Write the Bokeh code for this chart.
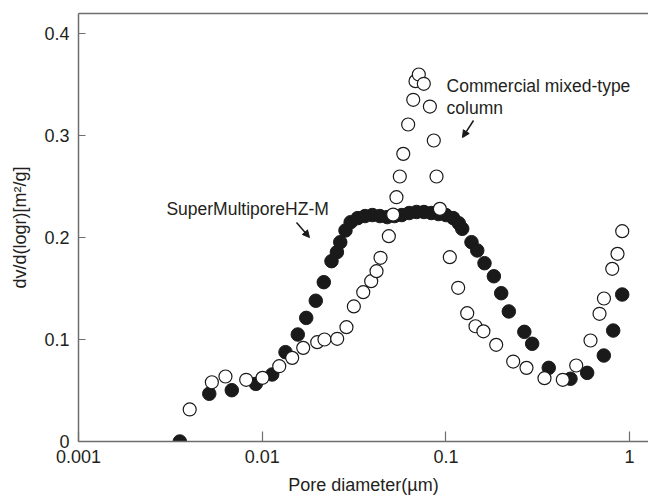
from bokeh.plotting import figure
from bokeh.models import FixedTicker, LogAxis, Label, Arrow, NormalHead, ColumnDataSource, Range1d
from bokeh.embed import file_html
from bokeh.resources import INLINE

# SuperMultiporeHZ-M (filled circles)
hz_diam = [0.00356, 0.00515, 0.00683, 0.00923, 0.01133, 0.01339, 0.01562, 0.01736,
           0.01957, 0.02164, 0.02383, 0.0255, 0.0266, 0.0284, 0.0303, 0.0331, 0.0363,
           0.0398, 0.0437, 0.0479, 0.0525, 0.0575, 0.0631, 0.0692, 0.0759, 0.0832,
           0.0912, 0.1000, 0.1096, 0.1175, 0.1227, 0.1378, 0.1481, 0.1622, 0.1824,
           0.2000, 0.2200, 0.2672, 0.2948, 0.3629, 0.4766, 0.5873, 0.7236, 0.8140, 0.9114]
hz_val = [0.000, 0.0468, 0.0503, 0.0565, 0.0657, 0.0876, 0.1049, 0.1212,
          0.1380, 0.1562, 0.1768, 0.1856, 0.1954, 0.2069, 0.2150, 0.2190, 0.2210,
          0.2220, 0.2210, 0.2200, 0.2210, 0.2220, 0.2240, 0.2250, 0.2250, 0.2240,
          0.2230, 0.2220, 0.2190, 0.2140, 0.2085, 0.1954, 0.1873, 0.1748, 0.1620,
          0.1454, 0.1275, 0.1075, 0.0958, 0.0722, 0.0615, 0.0673, 0.0843, 0.1088, 0.1441]

# Commercial mixed-type column (open circles)
com_diam = [0.00403, 0.00532, 0.00631, 0.00818, 0.01004, 0.01238, 0.01456, 0.01672,
            0.01993, 0.02183, 0.0256, 0.02875, 0.03154, 0.03548, 0.0392, 0.0419,
            0.04406, 0.0489, 0.0516, 0.0538, 0.0561, 0.0586, 0.0623, 0.0664, 0.0683,
            0.0712, 0.0758, 0.0818, 0.0859, 0.0889, 0.0927, 0.105, 0.1166, 0.1306,
            0.1449, 0.1600, 0.1878, 0.2324, 0.2746, 0.344, 0.4327, 0.512, 0.6125,
            0.6858, 0.7250, 0.8042, 0.8592, 0.9114]
com_val = [0.0314, 0.0581, 0.0637, 0.0605, 0.0624, 0.0738, 0.0820, 0.0918,
           0.0974, 0.1000, 0.1007, 0.1121, 0.1324, 0.1464, 0.1572, 0.1670,
           0.1801, 0.2013, 0.2225, 0.2395, 0.2598, 0.2820, 0.3108, 0.3350, 0.3533,
           0.3598, 0.3507, 0.3284, 0.2951, 0.2598, 0.2281, 0.1807, 0.1507, 0.1258,
           0.1130, 0.1080, 0.0948, 0.0784, 0.0722, 0.0621, 0.0605, 0.0745, 0.0990,
           0.1252, 0.1402, 0.1693, 0.1840, 0.2062]

x_ticks = [0.001, 0.01, 0.1, 1]
x_tick_labels = ["0.001", "0.01", "0.1", "1"]
y_ticks = [0, 0.1, 0.2, 0.3, 0.4]
y_tick_labels = ["0", "0.1", "0.2", "0.3", "0.4"]

x_title = "Pore diameter(µm)"
y_title = "dv/d(logr)[m²/g]"
hz_name = "SuperMultiporeHZ-M"
com_name_1 = "Commercial mixed-type"
com_name_2 = "column"

FONT = "Liberation Sans"
TXT = "#231f20"
AX = "#6e6e6e"

p = figure(width=648, height=498, x_axis_type="log",
           x_range=Range1d(0.001, 1.267), y_range=Range1d(0, 0.4196),
           output_backend="svg", toolbar_location=None,
           min_border_left=78, min_border_right=0, min_border_top=13, min_border_bottom=57,
           x_axis_label=x_title, y_axis_label=y_title)
p.outline_line_color = None
p.xgrid.grid_line_color = None
p.ygrid.grid_line_color = None
p.background_fill_color = "white"
p.border_fill_color = "white"

xa = p.xaxis[0]
xa.ticker = FixedTicker(ticks=x_ticks, minor_ticks=[])
xa.major_label_overrides = {t: l for t, l in zip(x_ticks, x_tick_labels)}
xa.major_tick_in = 10
xa.major_tick_out = 0
xa.major_label_standoff = 8
xa.axis_label_standoff = 9

ya = p.yaxis[0]
ya.ticker = FixedTicker(ticks=y_ticks, minor_ticks=[])
ya.major_label_overrides = {t: l for t, l in zip(y_ticks, y_tick_labels)}
ya.major_tick_in = 7
ya.major_tick_out = 0
ya.major_label_standoff = 9
ya.axis_label_standoff = 11

for ax in (xa, ya):
    ax.axis_line_color = AX
    ax.axis_line_width = 1.5
    ax.major_tick_line_color = AX
    ax.major_tick_line_width = 1.2
    ax.minor_tick_line_color = None
    ax.major_label_text_font = FONT
    ax.major_label_text_font_size = "18px"
    ax.major_label_text_color = TXT
    ax.axis_label_text_font = FONT
    ax.axis_label_text_font_size = "18px"
    ax.axis_label_text_font_style = "normal"
    ax.axis_label_text_color = TXT

top = LogAxis(ticker=FixedTicker(ticks=[], minor_ticks=[]), axis_line_color=AX,
              axis_line_width=1.5, major_tick_line_color=None, minor_tick_line_color=None)
p.add_layout(top, "above")

hz_src = ColumnDataSource(dict(x=hz_diam, y=hz_val))
com_src = ColumnDataSource(dict(x=com_diam, y=com_val))

p.scatter("x", "y", source=hz_src, size=13.5, marker="circle",
          fill_color="#1a1a1a", line_color="#1a1a1a", line_width=1)
p.scatter("x", "y", source=com_src, size=13, marker="circle",
          fill_color="white", line_color="#1a1a1a", line_width=1.2)

p.add_layout(Label(x=0.00301, y=0.2284, text=hz_name, text_font=FONT,
                   text_font_size="17.5px", text_color=TXT, text_baseline="middle"))
p.add_layout(Label(x=0.1008, y=0.349, text=com_name_1, text_font=FONT,
                   text_font_size="17.5px", text_color=TXT, text_baseline="middle"))
p.add_layout(Label(x=0.1008, y=0.3265, text=com_name_2, text_font=FONT,
                   text_font_size="17.5px", text_color=TXT, text_baseline="middle"))

p.add_layout(Arrow(x_start=0.01537, y_start=0.2147, x_end=0.01809, y_end=0.2,
                   line_width=1.5, line_color="#1a1a1a",
                   end=NormalHead(size=7, fill_color="#1a1a1a", line_color="#1a1a1a")))
p.add_layout(Arrow(x_start=0.1413, y_start=0.3147, x_end=0.1231, y_end=0.298,
                   line_width=1.5, line_color="#1a1a1a",
                   end=NormalHead(size=7, fill_color="#1a1a1a", line_color="#1a1a1a")))

open("out.html", "w").write(file_html(p, INLINE))
